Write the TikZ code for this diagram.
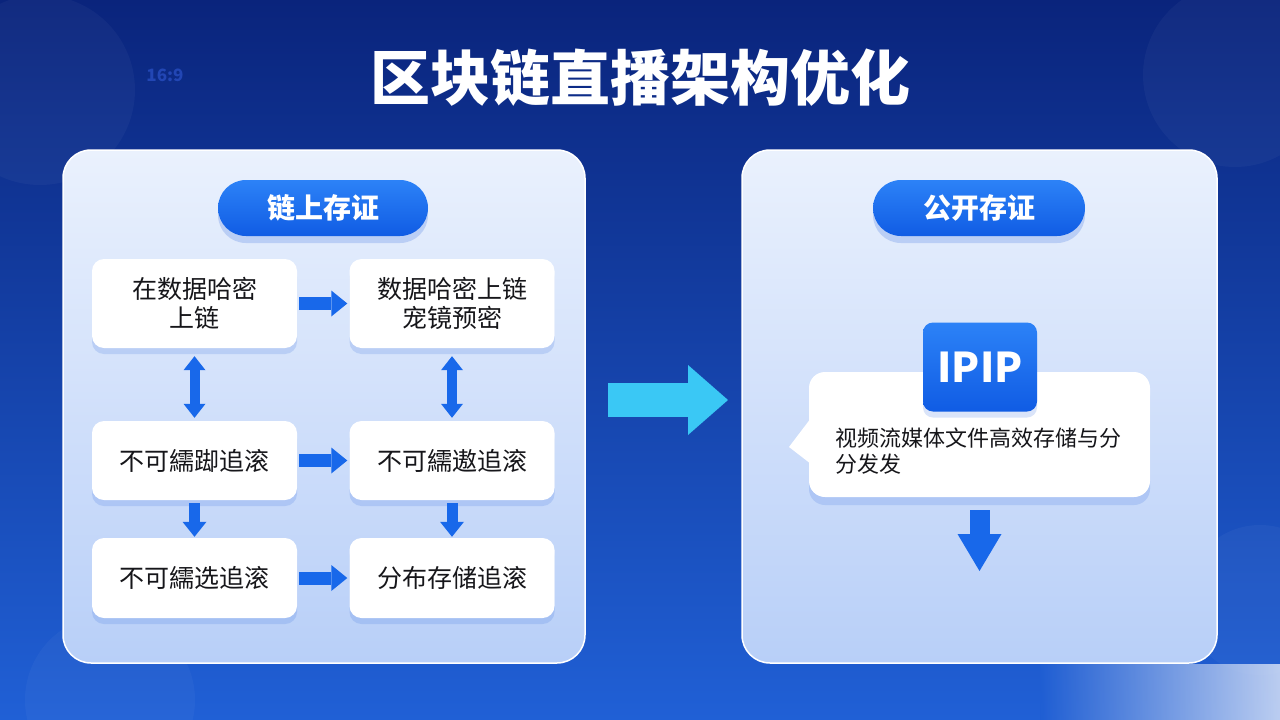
\documentclass[tikz,border=0pt]{standalone}
\usepackage{fontspec}
\newfontfamily\cjk{Noto Sans CJK SC}
\usetikzlibrary{arrows.meta,shadows}

\definecolor{bgtop}{RGB}{10,36,124}
\definecolor{bgbot}{RGB}{32,96,214}
\definecolor{bgcorner}{RGB}{31,94,211}
\definecolor{paneltop}{RGB}{234,241,253}
\definecolor{panelbot}{RGB}{184,207,248}
\definecolor{pilltop}{RGB}{44,130,247}
\definecolor{pillbot}{RGB}{16,92,228}
\definecolor{arrowblue}{RGB}{24,104,234}
\definecolor{cyanarrow}{RGB}{58,200,245}
\definecolor{txt}{RGB}{22,22,26}
\definecolor{shadowblue}{RGB}{70,120,225}
\definecolor{faint}{RGB}{34,70,180}
\definecolor{wm}{RGB}{226,233,248}

\tikzset{
  panel/.style={draw=white, line width=1.5pt, rounded corners=28pt,
    top color=paneltop, bottom color=panelbot, inner sep=0pt,
    minimum height=513pt},
  pill/.style={rounded corners=28pt, top color=pilltop, bottom color=pillbot,
    text=white, font=\cjk\bfseries\fontsize{28}{30}\selectfont,
    minimum height=56pt, inner sep=0pt,
    drop shadow={shadow xshift=0pt, shadow yshift=-7pt, fill=shadowblue, opacity=0.25}},
  flowbox/.style={fill=white, rounded corners=12pt, minimum width=205pt,
    inner sep=0pt, align=center, text=txt,
    font=\cjk\fontsize{25}{29}\selectfont,
    drop shadow={shadow xshift=0pt, shadow yshift=-6pt, fill=shadowblue, opacity=0.2}},
  harrow/.style={line width=13pt, draw=arrowblue,
    -{Triangle[width=26pt,length=16pt,line width=0pt]}},
  varrowtwo/.style={line width=10pt, draw=arrowblue,
    {Triangle[width=22pt,length=14pt,line width=0pt]}-{Triangle[width=22pt,length=14pt,line width=0pt]}},
  varrow/.style={line width=11pt, draw=arrowblue,
    -{Triangle[width=24pt,length=15pt,line width=0pt]}},
  bigarrow/.style={line width=34pt, draw=cyanarrow,
    -{Triangle[width=70pt,length=40pt,line width=0pt]}},
  downarrow/.style={line width=20pt, draw=arrowblue,
    -{Triangle[width=44pt,length=37pt,line width=0pt]}},
  deco/.style={fill=white, opacity=0.035}
}

\begin{document}
\begin{tikzpicture}[x=1pt,y=-1pt]
\useasboundingbox (0,0) rectangle (1280,720);
% background
\shade[top color=bgtop, bottom color=bgbot] (0,0) rectangle (1280,720);
\fill[deco] (40,90) circle (95);
\fill[deco] (1235,75) circle (92);
\fill[deco] (110,700) circle (85);
\fill[deco] (1260,600) circle (75);
\node[text=faint, font=\cjk\bfseries\fontsize{17}{18}\selectfont] (ratio) at (165,75) {16:9};

% title
\node[text=white, font=\cjk\bfseries\fontsize{60}{62}\selectfont] (title) at (640,78) {区块链直播架构优化};

% bottom-right light patch
\shade[left color=bgcorner, right color=wm, opacity=0.8] (1040,664) rectangle (1280,720);

% panels
\node[panel, minimum width=522pt] (L) at (324,406.5) {};
\node[panel, minimum width=475pt] (R) at (979.5,406.5) {};

% pills
\node[pill, minimum width=210pt] (pl) at (323,208) {链上存证};
\node[pill, minimum width=212pt] (pr) at (979,208) {公开存证};

% left flow boxes
\node[flowbox, minimum height=89pt] (b1) at (194.5,303.5) {在数据哈密\\上链};
\node[flowbox, minimum height=89pt] (b2) at (452,303.5) {数据哈密上链\\宠镜预密};
\node[flowbox, minimum height=79pt] (b3) at (194.5,460.5) {不可繻踋追滚};
\node[flowbox, minimum height=79pt] (b4) at (452,460.5) {不可繻遨追滚};
\node[flowbox, minimum height=80pt] (b5) at (194.5,578) {不可繻选追滚};
\node[flowbox, minimum height=80pt] (b6) at (452,578) {分布存储追滚};

% left arrows
\draw[harrow, shorten <=2pt, shorten >=2pt] (b1.east) -- (b2.west);
\draw[harrow, shorten <=2pt, shorten >=2pt] (b3.east) -- (b4.west);
\draw[harrow, shorten <=2pt, shorten >=2pt] (b5.east) -- (b6.west);
\draw[varrowtwo, shorten <=8pt, shorten >=3pt] (b1.south) -- (b3.north);
\draw[varrowtwo, shorten <=8pt, shorten >=3pt] (b2.south) -- (b4.north);
\draw[varrow, shorten <=3pt, shorten >=1pt] (b3.south) -- (b5.north);
\draw[varrow, shorten <=3pt, shorten >=1pt] (b4.south) -- (b6.north);

% big arrow between panels
\coordinate (a1) at (608,400);
\coordinate (a2) at (728,400);
\draw[bigarrow] (a1) -- (a2);

% right panel: bubble
\node[fill=white, rounded corners=16pt, minimum width=341pt, minimum height=125pt,
  inner sep=0pt,
  drop shadow={shadow xshift=0pt, shadow yshift=-8pt, fill=shadowblue, opacity=0.2}]
  (bub) at (979.5,434.5) {};
\fill[white] (811,418) -- (789,447) -- (811,464) -- cycle;
\node[anchor=north west, align=left, inner sep=0pt, text=txt,
  font=\cjk\fontsize{22}{26}\selectfont] (btxt) at (835,428)
  {视频流媒体文件高效存储与分\\分发发};
\node[rounded corners=10pt, top color=pilltop, bottom color=pillbot,
  minimum width=114pt, minimum height=89pt, inner sep=0pt, text=white,
  font=\cjk\bfseries\fontsize{41}{44}\selectfont,
  drop shadow={shadow xshift=0pt, shadow yshift=-6pt, fill=shadowblue, opacity=0.2}]
  (ipip) at (980,367) {IPIP};

\coordinate (dend) at (979.5,571);
\draw[downarrow, shorten <=13pt] (bub.south) -- (dend);
\end{tikzpicture}
\end{document}
